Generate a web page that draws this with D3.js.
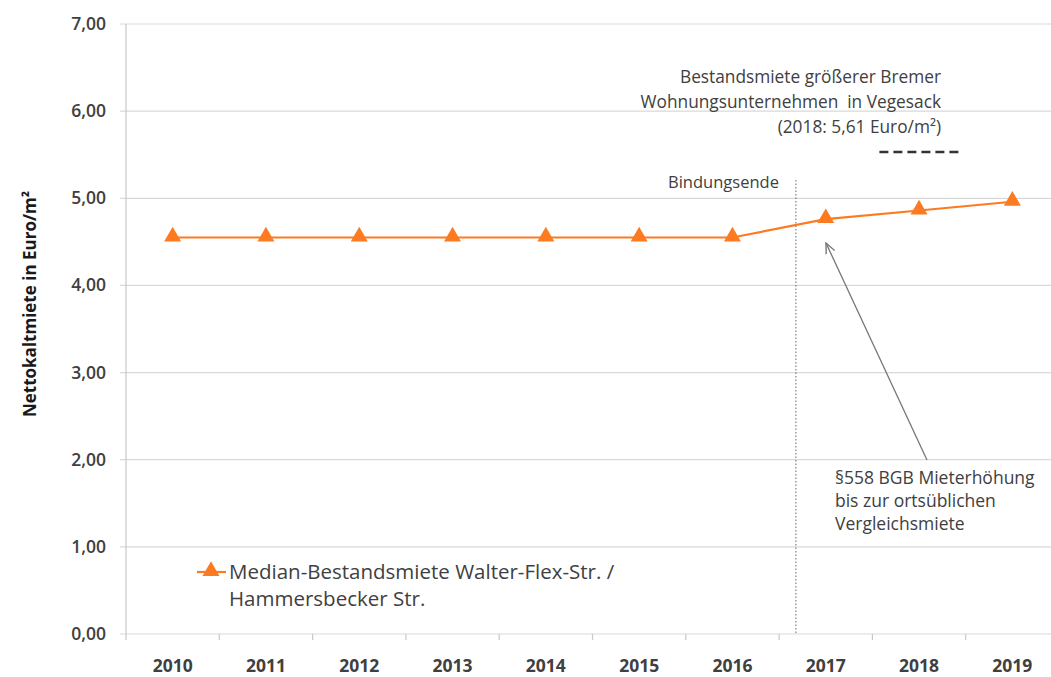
<!DOCTYPE html>
<html>
<head>
<meta charset="utf-8">
<script src="https://cdn.jsdelivr.net/npm/d3@7"></script>
<style>
	body { margin: 0; background: #fff; }
	svg { display: block; font-family: "Open Sans", Lato, sans-serif; }
</style>
</head>
<body>
<svg width="1051" height="677"></svg>
<script>
'use strict';

const years = ["2010", "2011", "2012", "2013", "2014", "2015", "2016", "2017", "2018", "2019"];
const medianRent = [4.55, 4.55, 4.55, 4.55, 4.55, 4.55, 4.55, 4.76, 4.86, 4.96];
const yTicks = [0, 1, 2, 3, 4, 5, 6, 7];
const benchmarkYear = "2018";
const benchmarkValue = 5.53; // dashed marker as drawn
const bindungsendeAt = 7.18; // position in category units from left

const svg = d3.select("svg");
const orange = "#fc7b21";
const textColor = "#404040";

const x = d3.scaleBand().domain(years).range([126, 1059]);
const y = d3.scaleLinear().domain([0, 7]).range([634, 24]);
const fmt = v => d3.format(".2f")(v).replace(".", ",");

// gridlines
svg.append("g")
	.selectAll("line")
	.data(yTicks)
	.enter().append("line")
	.attr("x1", 120).attr("x2", 1059)
	.attr("y1", d => y(d)).attr("y2", d => y(d))
	.attr("stroke", "#d9d9d9")
	.attr("stroke-width", 1.2);

// y axis line
svg.append("line")
	.attr("x1", 126).attr("x2", 126)
	.attr("y1", y(7)).attr("y2", y(0) + 6)
	.attr("stroke", "#c8c8c8").attr("stroke-width", 1.2);

// y labels
svg.append("g")
	.selectAll("text")
	.data(yTicks)
	.enter().append("text")
	.attr("x", 106)
	.attr("y", d => y(d) + 6)
	.attr("text-anchor", "end")
	.attr("font-size", 17.5)
	.attr("font-weight", 600)
	.attr("fill", textColor)
	.text(fmt);

// x ticks between categories
svg.append("g")
	.selectAll("line")
	.data(years.slice(1))
	.enter().append("line")
	.attr("x1", d => x(d)).attr("x2", d => x(d))
	.attr("y1", y(0)).attr("y2", y(0) + 6)
	.attr("stroke", "#c8c8c8").attr("stroke-width", 1.2);

// x labels
svg.append("g")
	.selectAll("text")
	.data(years)
	.enter().append("text")
	.attr("x", d => x(d) + x.bandwidth() / 2)
	.attr("y", 672)
	.attr("text-anchor", "middle")
	.attr("font-size", 17.5)
	.attr("font-weight", 700)
	.attr("fill", textColor)
	.text(d => d);

// y title
svg.append("text")
	.attr("transform", "translate(36,304) rotate(-90)")
	.attr("text-anchor", "middle")
	.attr("font-size", 17)
	.attr("font-weight", 700)
	.attr("fill", "#1a1a1a")
	.text("Nettokaltmiete in Euro/m²");

// Bindungsende
const bx = x(years[0]) + bindungsendeAt * x.step();
svg.append("line")
	.attr("x1", bx).attr("x2", bx)
	.attr("y1", 180).attr("y2", y(0))
	.attr("stroke", "#666")
	.attr("stroke-width", 1)
	.attr("stroke-dasharray", "1.5,2");
svg.append("text")
	.attr("x", bx - 17).attr("y", 188)
	.attr("text-anchor", "end")
	.attr("font-size", 16.5)
	.attr("fill", textColor)
	.text("Bindungsende");

// benchmark annotation
const annot = ["Bestandsmiete größerer Bremer", "Wohnungsunternehmen  in Vegesack", "(2018: 5,61 Euro/m²)"];
svg.append("g")
	.selectAll("text")
	.data(annot)
	.enter().append("text")
	.attr("x", 941)
	.attr("y", (d, i) => 83 + i * 25)
	.attr("text-anchor", "end")
	.attr("font-size", 17.3)
	.attr("fill", textColor)
	.style("white-space", "pre")
	.text(d => d);
svg.append("line")
	.attr("x1", x(benchmarkYear) + 7).attr("x2", x(benchmarkYear) + 88)
	.attr("y1", y(benchmarkValue)).attr("y2", y(benchmarkValue))
	.attr("stroke", "#333")
	.attr("stroke-width", 2.5)
	.attr("stroke-dasharray", "9,5");

// series line
const line = d3.line()
	.x((d, i) => x(years[i]) + x.bandwidth() / 2)
	.y(d => y(d));
svg.append("path")
	.datum(medianRent)
	.attr("d", line)
	.attr("fill", "none")
	.attr("stroke", orange)
	.attr("stroke-width", 2.2);

const tri = d3.symbol().type(d3.symbolTriangle).size(125);
svg.append("g")
	.selectAll("path")
	.data(medianRent)
	.enter().append("path")
	.attr("d", tri)
	.attr("transform", (d, i) => "translate(" + (x(years[i]) + x.bandwidth() / 2) + "," + (y(d) - 1) + ")")
	.attr("fill", orange);

// arrow annotation
svg.append("defs").append("marker")
	.attr("id", "arrow")
	.attr("viewBox", "0 0 10 10")
	.attr("refX", 9).attr("refY", 5)
	.attr("markerWidth", 9).attr("markerHeight", 9)
	.attr("orient", "auto")
	.append("path")
	.attr("d", "M0,1 L9,5 L0,9")
	.attr("fill", "none")
	.attr("stroke", "#777")
	.attr("stroke-width", 1.2);
svg.append("line")
	.attr("x1", 927).attr("y1", 460)
	.attr("x2", 826).attr("y2", 243)
	.attr("stroke", "#777")
	.attr("stroke-width", 1.3)
	.attr("marker-end", "url(#arrow)");
const note = ["§558 BGB Mieterhöhung", "bis zur ortsüblichen", "Vergleichsmiete"];
svg.append("g")
	.selectAll("text")
	.data(note)
	.enter().append("text")
	.attr("x", 835)
	.attr("y", (d, i) => 484 + i * 23)
	.attr("font-size", 17.5)
	.attr("fill", textColor)
	.text(d => d);

// legend
const legend = svg.append("g");
legend.append("line")
	.attr("x1", 197).attr("x2", 226)
	.attr("y1", 572).attr("y2", 572)
	.attr("stroke", orange).attr("stroke-width", 2.2);
legend.append("path")
	.attr("d", tri)
	.attr("transform", "translate(211,571)")
	.attr("fill", orange);
legend.selectAll("text")
	.data(["Median-Bestandsmiete Walter-Flex-Str. /", "Hammersbecker Str."])
	.enter().append("text")
	.attr("x", 229)
	.attr("y", (d, i) => 579 + i * 27)
	.attr("font-size", 20.5)
	.attr("fill", textColor)
	.text(d => d);
</script>
</body>
</html>
